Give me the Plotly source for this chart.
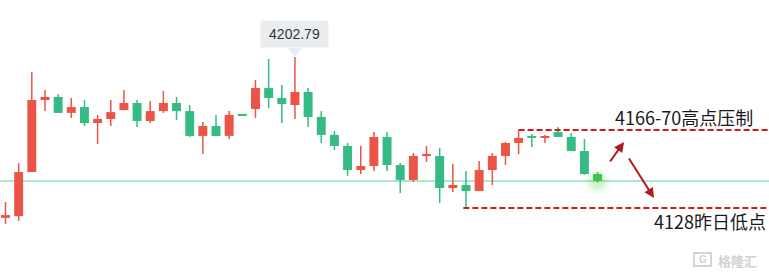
import plotly.graph_objects as go

# ---- data ----
opens = [4123.1, 4124.0, 4145.8, 4181.5, 4183.0, 4175.1, 4178.0, 4170.1, 4172.1, 4176.5,
         4180.0, 4171.1, 4176.0, 4180.0, 4176.0, 4163.7, 4168.6, 4163.7, 4174.1, 4177.0,
         4187.4, 4182.5, 4179.0, 4185.5, 4173.1, 4164.2, 4158.7, 4146.8, 4148.8, 4163.2,
         4149.3, 4141.9, 4153.8, 4153.8, 4137.9, 4139.4, 4136.4, 4146.8, 4153.8, 4160.2,
         4163.2, 4162.9, 4165.6, 4163.2, 4156.2, 4144.8]
highs = [4131.0, 4150.3, 4195.4, 4186.5, 4184.5, 4182.5, 4181.5, 4174.1, 4181.5, 4186.5,
         4181.5, 4181.0, 4186.0, 4183.0, 4179.0, 4170.6, 4174.1, 4176.0, 4174.6, 4191.4,
         4201.8, 4188.9, 4202.79, 4187.4, 4176.0, 4166.1, 4160.2, 4158.7, 4165.6, 4165.6,
         4150.3, 4155.2, 4158.7, 4157.7, 4149.8, 4146.3, 4151.3, 4155.2, 4160.7, 4166.6,
         4164.7, 4164.2, 4168.1, 4165.1, 4162.2, 4145.8]
lows = [4120.1, 4121.6, 4145.8, 4176.0, 4175.1, 4172.6, 4168.6, 4159.7, 4168.6, 4176.5,
        4168.1, 4170.1, 4175.1, 4171.6, 4163.2, 4154.7, 4163.7, 4162.2, 4173.6, 4172.6,
        4177.5, 4170.1, 4172.1, 4168.1, 4160.2, 4156.7, 4143.9, 4144.8, 4146.3, 4146.3,
        4135.4, 4140.9, 4150.8, 4130.5, 4135.9, 4128.0, 4136.4, 4139.4, 4149.3, 4154.7,
        4158.2, 4160.2, 4163.2, 4156.2, 4144.4, 4140.4]
closes = [4124.5, 4145.8, 4181.5, 4183.0, 4175.1, 4178.0, 4170.1, 4172.1, 4175.5, 4180.0,
          4171.1, 4176.0, 4180.0, 4176.0, 4163.7, 4168.6, 4163.7, 4174.1, 4173.6, 4187.4,
          4182.5, 4179.5, 4185.5, 4173.1, 4164.2, 4158.7, 4146.8, 4148.8, 4163.2, 4149.3,
          4141.9, 4153.8, 4154.3, 4137.9, 4139.4, 4136.4, 4146.8, 4153.8, 4160.2, 4162.7,
          4162.7, 4163.2, 4163.2, 4156.2, 4144.8, 4141.4]

peak_label = "4202.79"
resist_level = 4166.6
resist_start = 39
support_level = 4128.0
support_start = 35
resist_text = "4166-70高点压制"
support_text = "4128昨日低点"
watermark = "格隆汇"

UP = "#eb5446"
DOWN = "#35bb83"
LAST = "#3fc24d"
DASH = "#d11a1a"
ARROW = "#b3191c"

W, H = 769, 278
x_range = [-0.418, 58.03]
y_range = [4093.33, 4231.02]
px_y = (y_range[1] - y_range[0]) / H   # price per pixel
n = len(opens)
xs = list(range(n))

fig = go.Figure()

def add_group(idx, color):
    wx, wy = [], []
    for i in idx:
        wx += [xs[i], xs[i], None]
        wy += [lows[i], highs[i], None]
    fig.add_trace(go.Scatter(x=wx, y=wy, mode="lines",
                             line=dict(color=color, width=1.5),
                             hoverinfo="skip", showlegend=False))
    base = [min(opens[i], closes[i]) for i in idx]
    hgt = [max(abs(closes[i] - opens[i]), 0.6) for i in idx]
    fig.add_trace(go.Bar(x=[xs[i] for i in idx], y=hgt, base=base, width=0.68,
                         marker=dict(color=color, line=dict(width=0)),
                         hoverinfo="skip", showlegend=False))

last = n - 1
up_idx = [i for i in range(last) if closes[i] >= opens[i]]
dn_idx = [i for i in range(last) if closes[i] < opens[i]]

# glow around last candle
for s, a in [(26, 0.06), (20, 0.09), (14, 0.12)]:
    fig.add_trace(go.Scatter(x=[xs[last]], y=[(opens[last] + closes[last]) / 2 - 2.0],
                             mode="markers",
                             marker=dict(size=s, color=f"rgba(80,210,80,{a})", line=dict(width=0)),
                             hoverinfo="skip", showlegend=False))

add_group(up_idx, UP)
add_group(dn_idx, DOWN)
add_group([last], LAST)

# pointer triangle of peak label
peak_i = max(range(n), key=lambda i: highs[i])
fig.add_trace(go.Scatter(x=[xs[peak_i]], y=[highs[peak_i] + 6 * px_y], mode="markers",
                         marker=dict(symbol="triangle-down", size=12, color="#eaedf0",
                                     line=dict(width=0)),
                         hoverinfo="skip", showlegend=False))

shapes = [
    dict(type="line", xref="paper", x0=0, x1=1, yref="y", y0=closes[last], y1=closes[last],
         line=dict(color="#93dfbf", width=1.5), layer="below"),
    dict(type="line", xref="x", x0=resist_start, x1=x_range[1], yref="y",
         y0=resist_level, y1=resist_level, line=dict(color=DASH, width=2, dash="6px,3px")),
    dict(type="line", xref="x", x0=support_start - 0.2, x1=x_range[1], yref="y",
         y0=support_level, y1=support_level, line=dict(color=DASH, width=2, dash="6px,3px")),
    dict(type="rect", xref="paper", yref="paper", x0=694 / W, x1=711 / W,
         y0=1 - 266 / H, y1=1 - 253 / H, line=dict(color="#d4d4d4", width=2)),
]

annotations = [
    dict(x=xs[peak_i], y=highs[peak_i], xref="x", yref="y", text=peak_label,
         showarrow=False, yanchor="bottom", yshift=9, width=67, height=26,
         bgcolor="#eaedf0", borderpad=0,
         font=dict(family="Liberation Sans, Arial", size=14, color="#333333")),
    dict(x=613 / W, y=1 - 117 / H, xref="paper", yref="paper", text=resist_text,
         showarrow=False, xanchor="left", yanchor="middle",
         font=dict(family="Noto Sans CJK SC", size=18, color="#1a1a1a")),
    dict(x=652 / W, y=1 - 221 / H, xref="paper", yref="paper", text=support_text,
         showarrow=False, xanchor="left", yanchor="middle",
         font=dict(family="Noto Sans CJK SC", size=18, color="#1a1a1a")),
    dict(x=624 / W, y=1 - 142 / H, xref="paper", yref="paper", text="",
         showarrow=True, ax=-15, ay=21, arrowhead=2, arrowsize=1, arrowwidth=2,
         arrowcolor=ARROW),
    dict(x=654 / W, y=1 - 198 / H, xref="paper", yref="paper", text="",
         showarrow=True, ax=-26, ay=-41, arrowhead=2, arrowsize=1, arrowwidth=2,
         arrowcolor=ARROW),
    dict(x=716 / W, y=1 - 260 / H, xref="paper", yref="paper", text="<b>" + watermark + "</b>",
         showarrow=False, xanchor="left", yanchor="middle",
         font=dict(family="Noto Sans CJK SC", size=13, color="#d2d2d2")),
    dict(x=702.5 / W, y=1 - 259.5 / H, xref="paper", yref="paper", text="<b>G</b>",
         showarrow=False, xanchor="center", yanchor="middle",
         font=dict(family="Liberation Sans", size=10, color="#d2d2d2")),
]

fig.update_layout(
    width=W, height=H, margin=dict(l=0, r=0, t=0, b=0),
    paper_bgcolor="white", plot_bgcolor="white",
    barmode="overlay", showlegend=False, hovermode=False,
    xaxis=dict(range=x_range, visible=False, fixedrange=True),
    yaxis=dict(range=y_range, visible=False, fixedrange=True),
    shapes=shapes, annotations=annotations,
)

fig.write_html("out.html", config={"displayModeBar": False})
